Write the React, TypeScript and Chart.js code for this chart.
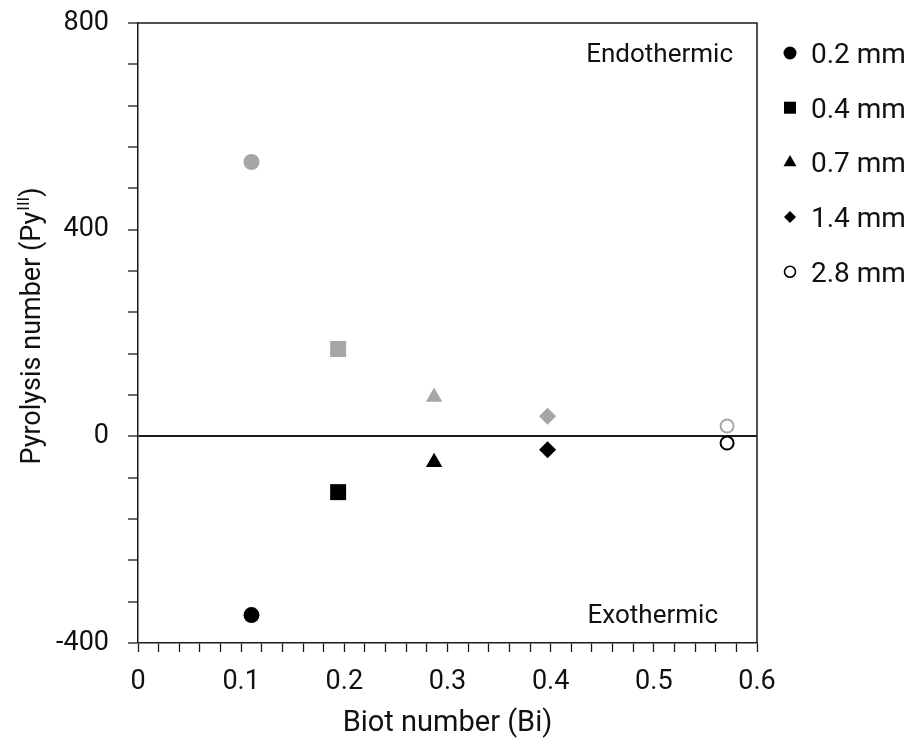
import React, { useEffect, useRef } from 'react';
import { Chart, registerables } from 'chart.js';
import { drawPoint } from 'chart.js/helpers';

Chart.register(...registerables);

const sizeLabels = ['0.2 mm', '0.4 mm', '0.7 mm', '1.4 mm', '2.8 mm'];
const biotNumbers = [0.11, 0.194, 0.287, 0.397, 0.571];
const pyEndothermic = [531, 169, 76, 39, 20];
const pyExothermic = [-346, -108, -50, -26, -13];
const markerStyles = ['circle', 'rect', 'triangle', 'rectRot', 'circle'];
const markerOpen = [false, false, false, false, true];
const markerRadius = [8, 11.3, 9.5, 8.5, 6.5];
const legendRadius = [6.5, 8.5, 7.5, 6, 5.5];
const yTickLabels = [-400, 0, 400, 800];
const xTickLabels = [0, 0.1, 0.2, 0.3, 0.4, 0.5, 0.6];

const FONT = 'Roboto, "Noto Sans", sans-serif';
const GRAY = '#a6a6a6';
const BLACK = '#000000';
const AXIS = '#1a1a1a';

const frameAndTextPlugin = {
  id: 'frameAndText',
  afterDraw(chart: any) {
    const { ctx, chartArea } = chart;
    const { left, right, top, bottom } = chartArea;
    ctx.save();
    // top and right frame
    ctx.strokeStyle = AXIS;
    ctx.lineWidth = 1.5;
    ctx.beginPath();
    ctx.moveTo(left, top);
    ctx.lineTo(right, top);
    ctx.lineTo(right, bottom);
    ctx.stroke();

    // annotations
    ctx.fillStyle = '#111';
    ctx.font = `26px ${FONT}`;
    ctx.textAlign = 'right';
    ctx.textBaseline = 'alphabetic';
    ctx.fillText('Endothermic', right - 24, 53 + 26 * 0.355);
    ctx.fillText('Exothermic', right - 39, 614 + 26 * 0.355);

    // y-axis title with superscript
    const main = 'Pyrolysis number (Py';
    const sup = 'III';
    const close = ')';
    const fs = 27;
    ctx.font = `${fs}px ${FONT}`;
    const wMain = ctx.measureText(main).width;
    const wClose = ctx.measureText(close).width;
    ctx.font = `${Math.round(fs * 0.62)}px ${FONT}`;
    const wSup = ctx.measureText(sup).width + 1;
    const total = wMain + wSup + wClose;
    ctx.translate(30, 326);
    ctx.rotate(-Math.PI / 2);
    ctx.textAlign = 'left';
    const base = fs * 0.355;
    let x0 = -total / 2;
    ctx.font = `${fs}px ${FONT}`;
    ctx.fillText(main, x0, base);
    x0 += wMain;
    ctx.font = `${Math.round(fs * 0.62)}px ${FONT}`;
    ctx.fillText(sup, x0 + 1, base - fs * 0.4);
    x0 += wSup;
    ctx.font = `${fs}px ${FONT}`;
    ctx.fillText(close, x0, base);
    ctx.restore();

    // legend
    ctx.save();
    const items = chart.data.datasets.filter((d: any) => d.showInLegend);
    items.forEach((d: any, i: number) => {
      const cy = 53 + i * 54.7;
      const cx = right + 33;
      ctx.fillStyle = d.legendOpen ? '#ffffff' : BLACK;
      ctx.strokeStyle = BLACK;
      ctx.lineWidth = d.legendOpen ? 1.6 : 0;
      drawPoint(ctx, {
        pointStyle: d.pointStyle,
        radius: d.legendRadius,
        rotation: 0,
        borderWidth: d.legendOpen ? 1.6 : 0,
      }, cx, cy);
      ctx.fillStyle = '#111';
      ctx.font = `28px ${FONT}`;
      ctx.textAlign = 'left';
      ctx.textBaseline = 'alphabetic';
      ctx.fillText(d.label, right + 54, cy + 28 * 0.355);
    });
    ctx.restore();
  },
};

function buildDatasets() {
  const sets: any[] = [];
  sizeLabels.forEach((label, i) => {
    const open = markerOpen[i];
    sets.push({
      label: label + ' endo',
      data: [{ x: biotNumbers[i], y: pyEndothermic[i] }],
      pointStyle: markerStyles[i],
      pointRadius: markerRadius[i],
      pointBackgroundColor: open ? '#ffffff' : GRAY,
      pointBorderColor: GRAY,
      pointBorderWidth: open ? 2 : 0,
      showInLegend: false,
    });
    sets.push({
      label,
      data: [{ x: biotNumbers[i], y: pyExothermic[i] }],
      pointStyle: markerStyles[i],
      pointRadius: markerRadius[i],
      pointBackgroundColor: open ? '#ffffff' : BLACK,
      pointBorderColor: BLACK,
      pointBorderWidth: open ? 2 : 0,
      showInLegend: true,
      legendOpen: open,
      legendRadius: legendRadius[i],
    });
  });
  return sets;
}

export default function App() {
  const canvasRef = useRef<HTMLCanvasElement | null>(null);

  useEffect(() => {
    document.body.style.margin = '0';
    const canvas = canvasRef.current;
    if (!canvas) return;
    const chart = new Chart(canvas, {
      type: 'scatter',
      data: { datasets: buildDatasets() },
      options: {
        responsive: false,
        animation: false,
        devicePixelRatio: 1,
        layout: { padding: { left: 0, right: 162, top: 23, bottom: 0 } },
        plugins: {
          legend: { display: false },
          tooltip: { enabled: false },
        },
        scales: {
          x: {
            type: 'linear',
            min: 0,
            max: 0.6,
            afterFit: (scale: any) => {
              scale.height = 101;
              scale.paddingLeft = 0;
              scale.paddingRight = 0;
            },
            ticks: {
              stepSize: 0.02,
              autoSkip: false,
              maxRotation: 0,
              color: '#111',
              padding: 14,
              font: { family: FONT, size: 27 },
              callback: (v: any) => {
                const n = Number(v);
                const hit = xTickLabels.find((t) => Math.abs(t - n) < 1e-6);
                if (hit === undefined) return '';
                return hit === 0 ? '0' : hit.toFixed(1);
              },
            },
            grid: {
              drawOnChartArea: false,
              drawTicks: true,
              tickLength: 9,
              tickColor: AXIS,
              tickWidth: 1.3,
            },
            border: { display: true, color: AXIS, width: 1.5 },
            title: {
              display: true,
              text: 'Biot number (Bi)',
              color: '#111',
              font: { family: FONT, size: 29 },
              padding: { top: 0, bottom: 3 },
            },
          },
          y: {
            type: 'linear',
            min: -400,
            max: 800,
            afterFit: (scale: any) => {
              scale.width = 138;
              scale.paddingTop = 0;
              scale.paddingBottom = 0;
            },
            ticks: {
              stepSize: 80,
              autoSkip: false,
              color: '#111',
              padding: 19,
              font: { family: FONT, size: 27 },
              callback: (v: any) => {
                const n = Number(v);
                return yTickLabels.includes(n) ? String(n) : '';
              },
            },
            grid: {
              drawOnChartArea: true,
              drawTicks: true,
              tickLength: 10,
              tickColor: AXIS,
              tickWidth: 1.3,
              color: (ctx: any) => (ctx.tick && ctx.tick.value === 0 ? AXIS : 'rgba(0,0,0,0)'),
              lineWidth: (ctx: any) => (ctx.tick && ctx.tick.value === 0 ? 2 : 0),
            },
            border: { display: true, color: AXIS, width: 1.5 },
            title: { display: false },
          },
        },
      },
      plugins: [frameAndTextPlugin],
    });
    return () => chart.destroy();
  }, []);

  return (
    <div style={{ width: 919, height: 744, background: '#fff' }}>
      <canvas ref={canvasRef} width={919} height={744} style={{ display: 'block' }} />
    </div>
  );
}
